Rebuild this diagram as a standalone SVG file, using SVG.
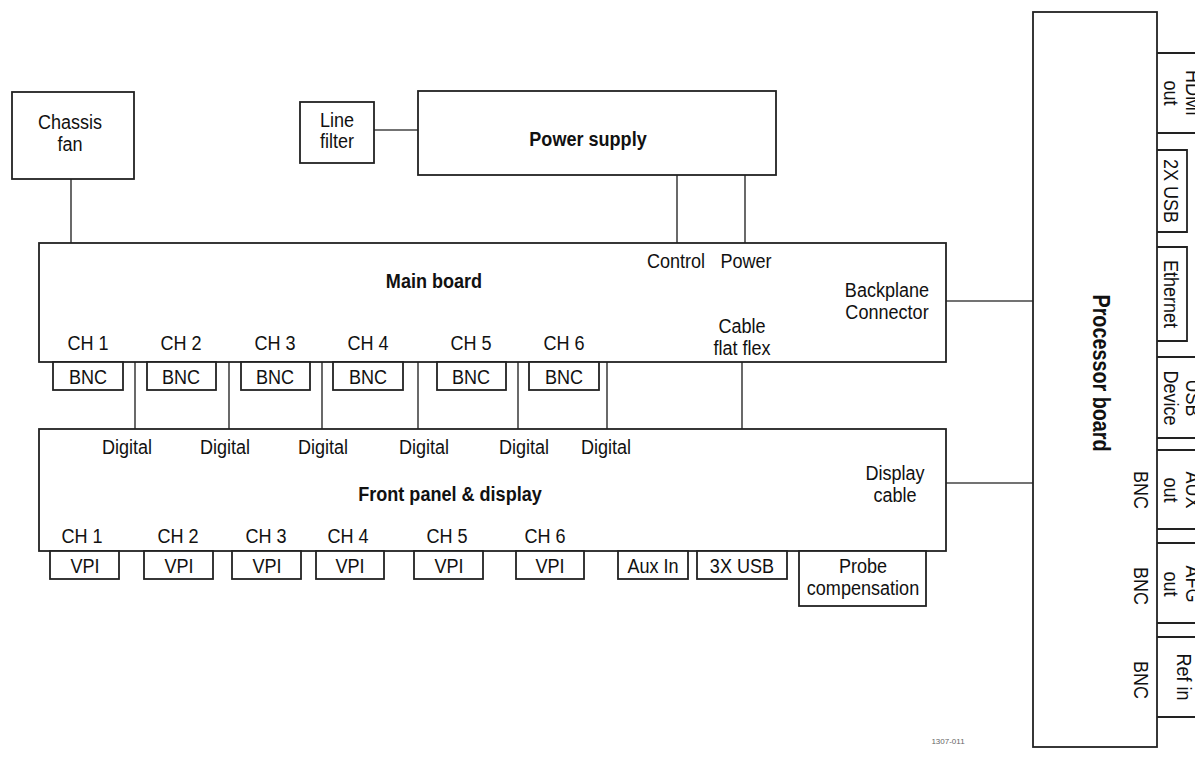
<svg xmlns="http://www.w3.org/2000/svg" width="1195" height="763" viewBox="0 0 1195 763">
<style>
text{font-family:"Liberation Sans",Arial,sans-serif;font-size:21px;fill:#111;text-anchor:middle}
.h{transform-box:fill-box;transform-origin:center;transform:scaleX(0.86)}
.b{font-weight:bold}
.pb{font-weight:bold;font-size:23px}
.box{fill:#fff;stroke:#222;stroke-width:1.8}
.ln{fill:none;stroke:#444;stroke-width:1.6}
.tab{fill:none;stroke:#222;stroke-width:1.8}
.id{font-size:8px;fill:#666}
</style>
<rect width="1195" height="763" fill="#fff"/>
<g id="connectors">
<line class="ln" x1="71" y1="179" x2="71" y2="243"/>
<line class="ln" x1="374" y1="130" x2="418" y2="130"/>
<line class="ln" x1="677" y1="175" x2="677" y2="243"/>
<line class="ln" x1="745" y1="175" x2="745" y2="243"/>
<line class="ln" x1="135" y1="362" x2="135" y2="429"/>
<line class="ln" x1="229" y1="362" x2="229" y2="429"/>
<line class="ln" x1="322" y1="362" x2="322" y2="429"/>
<line class="ln" x1="418" y1="362" x2="418" y2="429"/>
<line class="ln" x1="518" y1="362" x2="518" y2="429"/>
<line class="ln" x1="607" y1="362" x2="607" y2="429"/>
<line class="ln" x1="742" y1="362" x2="742" y2="429"/>
<line class="ln" x1="946" y1="301" x2="1033" y2="301"/>
<line class="ln" x1="946" y1="483" x2="1033" y2="483"/>
</g>
<g id="chassis-fan">
<rect class="box" x="12" y="92" width="122" height="87"/>
<text class="h" x="70" y="129">Chassis</text>
<text class="h" x="70" y="151">fan</text>
</g>
<g id="line-filter">
<rect class="box" x="300" y="102" width="74" height="61"/>
<text class="h" x="337" y="127">Line</text>
<text class="h" x="337" y="148">filter</text>
</g>
<g id="power-supply">
<rect class="box" x="418" y="91" width="358" height="84"/>
<text class="h b" x="588" y="146">Power supply</text>
</g>
<g id="main-board">
<rect class="box" x="39" y="243" width="907" height="119"/>
<text class="h b" x="434" y="288">Main board</text>
<text class="h" x="676" y="268">Control</text>
<text class="h" x="746" y="268">Power</text>
<text class="h" x="887" y="297">Backplane</text>
<text class="h" x="887" y="319">Connector</text>
<text class="h" x="742" y="333">Cable</text>
<text class="h" x="742" y="355">flat flex</text>
<text class="h" x="88" y="350">CH 1</text>
<text class="h" x="181" y="350">CH 2</text>
<text class="h" x="275" y="350">CH 3</text>
<text class="h" x="368" y="350">CH 4</text>
<text class="h" x="471" y="350">CH 5</text>
<text class="h" x="564" y="350">CH 6</text>
</g>
<g id="bnc-1"><rect class="box" x="53" y="362" width="70" height="28"/><text class="h" x="88" y="384">BNC</text></g>
<g id="bnc-2"><rect class="box" x="147" y="362" width="69" height="28"/><text class="h" x="181" y="384">BNC</text></g>
<g id="bnc-3"><rect class="box" x="241" y="362" width="69" height="28"/><text class="h" x="275" y="384">BNC</text></g>
<g id="bnc-4"><rect class="box" x="333" y="362" width="70" height="28"/><text class="h" x="368" y="384">BNC</text></g>
<g id="bnc-5"><rect class="box" x="437" y="362" width="69" height="28"/><text class="h" x="471" y="384">BNC</text></g>
<g id="bnc-6"><rect class="box" x="529" y="362" width="70" height="28"/><text class="h" x="564" y="384">BNC</text></g>
<g id="front-panel">
<rect class="box" x="39" y="429" width="907" height="122"/>
<text class="h" x="127" y="454">Digital</text>
<text class="h" x="225" y="454">Digital</text>
<text class="h" x="323" y="454">Digital</text>
<text class="h" x="424" y="454">Digital</text>
<text class="h" x="524" y="454">Digital</text>
<text class="h" x="606" y="454">Digital</text>
<text class="h b" x="450" y="501">Front panel &amp; display</text>
<text class="h" x="895" y="480">Display</text>
<text class="h" x="895" y="502">cable</text>
<text class="h" x="82" y="543">CH 1</text>
<text class="h" x="178" y="543">CH 2</text>
<text class="h" x="266" y="543">CH 3</text>
<text class="h" x="348" y="543">CH 4</text>
<text class="h" x="447" y="543">CH 5</text>
<text class="h" x="545" y="543">CH 6</text>
</g>
<g id="vpi-1"><rect class="box" x="50" y="551" width="69" height="28"/><text class="h" x="85" y="573">VPI</text></g>
<g id="vpi-2"><rect class="box" x="144" y="551" width="69" height="28"/><text class="h" x="179" y="573">VPI</text></g>
<g id="vpi-3"><rect class="box" x="232" y="551" width="69" height="28"/><text class="h" x="267" y="573">VPI</text></g>
<g id="vpi-4"><rect class="box" x="316" y="551" width="68" height="28"/><text class="h" x="350" y="573">VPI</text></g>
<g id="vpi-5"><rect class="box" x="414" y="551" width="69" height="28"/><text class="h" x="449" y="573">VPI</text></g>
<g id="vpi-6"><rect class="box" x="516" y="551" width="68" height="28"/><text class="h" x="550" y="573">VPI</text></g>
<g id="aux-in"><rect class="box" x="618" y="551" width="70" height="28"/><text class="h" x="653" y="573">Aux In</text></g>
<g id="usb-3x"><rect class="box" x="697" y="551" width="90" height="28"/><text class="h" x="742" y="573">3X USB</text></g>
<g id="probe-comp"><rect class="box" x="799" y="551" width="127" height="55"/><text class="h" x="863" y="573">Probe</text><text class="h" x="863" y="595">compensation</text></g>
<g id="processor-board">
<rect class="box" x="1033" y="12" width="124" height="735"/>
<text class="pb" transform="translate(1093,373) rotate(90) scale(0.86,1)">Processor board</text>
<text transform="translate(1134,490) rotate(90) scale(0.86,1)">BNC</text>
<text transform="translate(1134,586) rotate(90) scale(0.86,1)">BNC</text>
<text transform="translate(1134,680) rotate(90) scale(0.86,1)">BNC</text>
</g>
<g id="hdmi-out">
<path class="tab" d="M1157 53H1195M1157 133H1195"/>
<text transform="translate(1186,93) rotate(90) scale(0.86,1)">HDMI</text>
<text transform="translate(1164,93) rotate(90) scale(0.86,1)">out</text>
</g>
<g id="usb-2x">
<path class="tab" d="M1157 150H1187V232H1157"/>
<text transform="translate(1164,191) rotate(90) scale(0.86,1)">2X USB</text>
</g>
<g id="ethernet">
<path class="tab" d="M1157 247H1187V341H1157"/>
<text transform="translate(1164,294) rotate(90) scale(0.86,1)">Ethernet</text>
</g>
<g id="usb-device">
<path class="tab" d="M1157 357H1195M1157 438H1195"/>
<text transform="translate(1186,398) rotate(90) scale(0.86,1)">USB</text>
<text transform="translate(1164,398) rotate(90) scale(0.86,1)">Device</text>
</g>
<g id="aux-out">
<path class="tab" d="M1157 450H1195M1157 529H1195"/>
<text transform="translate(1186,490) rotate(90) scale(0.86,1)">AUX</text>
<text transform="translate(1164,490) rotate(90) scale(0.86,1)">out</text>
</g>
<g id="afg-out">
<path class="tab" d="M1157 543H1195M1157 623H1195"/>
<text transform="translate(1186,584) rotate(90) scale(0.86,1)">AFG</text>
<text transform="translate(1164,584) rotate(90) scale(0.86,1)">out</text>
</g>
<g id="ref-in">
<path class="tab" d="M1157 637H1195M1157 717H1195"/>
<text transform="translate(1177,677) rotate(90) scale(0.86,1)">Ref in</text>
</g>
<text class="id" x="948" y="744">1307-011</text>
</svg>
